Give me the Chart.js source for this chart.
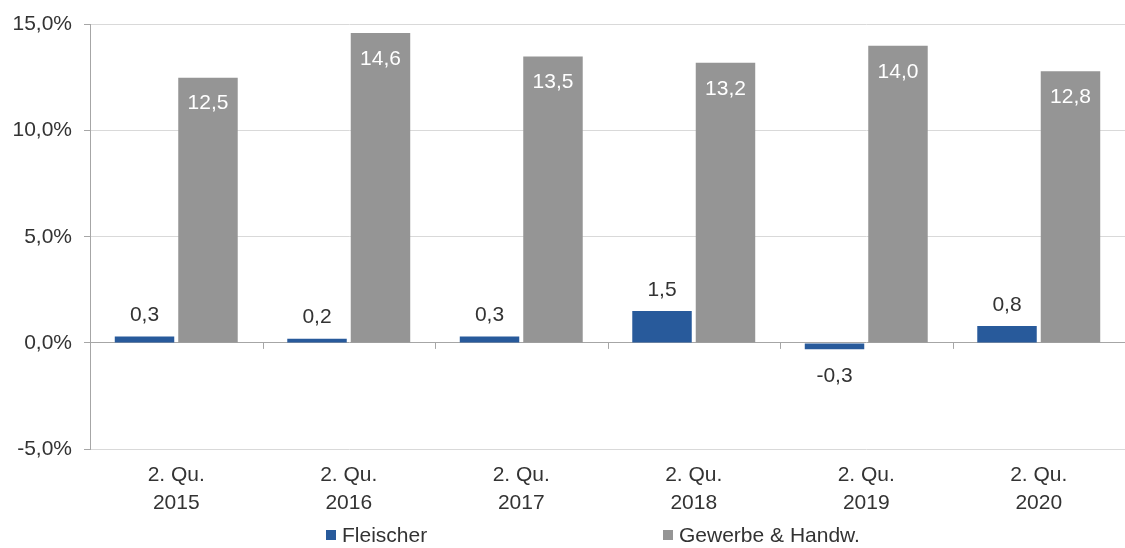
<!DOCTYPE html>
<html>
<head>
<meta charset="utf-8">
<script src="https://cdn.jsdelivr.net/npm/chart.js@4"></script>
<style>
    html, body { margin: 0; padding: 0; background: #ffffff; }
    #wrap { width: 1125px; height: 548px; position: relative; }
</style>
</head>
<body>
<div id="wrap"><canvas id="barChart"></canvas></div>
<script>
// Chart data
const categories = [['2. Qu.', '2015'], ['2. Qu.', '2016'], ['2. Qu.', '2017'], ['2. Qu.', '2018'], ['2. Qu.', '2019'], ['2. Qu.', '2020']];
const fleischerValues = [0.3, 0.2, 0.3, 1.5, -0.3, 0.8];
const gewerbeValues = [12.5, 14.6, 13.5, 13.2, 14.0, 12.8];
const seriesNames = ['Fleischer', 'Gewerbe & Handw.'];
const yTicks = [-5, 0, 5, 10, 15];

const blue = '#285A9B';
const grey = '#959595';
const fontFamily = '"Liberation Sans", Arial, sans-serif';
const fontSize = 21;

function formatNumber(v) {
    return v.toFixed(1).replace('.', ',');
}

// Value labels above/inside the bars
const valueLabels = {
    id: 'valueLabels',
    afterDatasetsDraw(chart) {
        const ctx = chart.ctx;
        ctx.save();
        ctx.font = fontSize + 'px ' + fontFamily;
        ctx.textAlign = 'center';
        ctx.textBaseline = 'middle';
        chart.data.datasets.forEach((ds, di) => {
            const meta = chart.getDatasetMeta(di);
            meta.data.forEach((bar, i) => {
                const v = ds.data[i];
                if (di === 1) {
                    ctx.fillStyle = '#ffffff';
                    ctx.fillText(formatNumber(v), bar.x, bar.y + 26);
                } else {
                    ctx.fillStyle = '#333333';
                    const y = v >= 0 ? bar.y - 21 : bar.y + 27;
                    ctx.fillText(formatNumber(v), bar.x, y);
                }
            });
        });
        ctx.restore();
    }
};

// Zero line tick marks and bottom legend
const axisExtras = {
    id: 'axisExtras',
    afterDraw(chart) {
        const ctx = chart.ctx;
        const xs = chart.scales.x;
        const ys = chart.scales.y;
        const y0 = ys.getPixelForValue(0);
        ctx.save();
        ctx.strokeStyle = '#a6a6a6';
        ctx.lineWidth = 1;
        for (let i = 1; i < categories.length; i++) {
            const x = Math.round(xs.getPixelForValue(i - 0.5)) + 0.5;
            ctx.beginPath();
            ctx.moveTo(x, y0);
            ctx.lineTo(x, y0 + 6);
            ctx.stroke();
        }

        // legend
        const items = [
            { text: seriesNames[0], color: blue, x: 326 },
            { text: seriesNames[1], color: grey, x: 663 }
        ];
        const ly = 535;
        ctx.font = fontSize + 'px ' + fontFamily;
        ctx.textBaseline = 'middle';
        ctx.textAlign = 'left';
        items.forEach(item => {
            ctx.fillStyle = item.color;
            ctx.fillRect(item.x, ly - 5, 10, 10);
            ctx.fillStyle = '#333333';
            ctx.fillText(item.text, item.x + 16, ly + 1);
        });
        ctx.restore();
    }
};

const chart = new Chart(document.getElementById('barChart').getContext('2d'), {
    type: 'bar',
    data: {
        labels: categories,
        datasets: [{
            label: seriesNames[0],
            data: fleischerValues,
            backgroundColor: blue,
            categoryPercentage: 0.736,
            barPercentage: 0.937
        }, {
            label: seriesNames[1],
            data: gewerbeValues,
            backgroundColor: grey,
            categoryPercentage: 0.736,
            barPercentage: 0.937
        }]
    },
    options: {
        responsive: true,
        maintainAspectRatio: false,
        animation: false,
        layout: {
            padding: { top: 21, right: 0, bottom: 0, left: 0 }
        },
        plugins: {
            legend: { display: false },
            tooltip: { enabled: false }
        },
        scales: {
            x: {
                grid: { display: false, drawTicks: false },
                border: { display: false },
                ticks: {
                    color: '#333333',
                    padding: 13,
                    maxRotation: 0,
                    font: { family: fontFamily, size: fontSize, lineHeight: 1.3 }
                },
                afterFit(scale) { scale.height = 99; }
            },
            y: {
                min: -5,
                max: 15,
                afterBuildTicks(scale) {
                    scale.ticks = yTicks.map(v => ({ value: v }));
                },
                grid: {
                    color: ctx => ctx.tick && ctx.tick.value === 0 ? '#a6a6a6' : '#d9d9d9',
                    tickColor: '#a6a6a6',
                    tickLength: 6,
                    lineWidth: 1
                },
                border: { color: '#a6a6a6' },
                ticks: {
                    color: '#333333',
                    padding: 12,
                    font: { family: fontFamily, size: fontSize },
                    callback: v => formatNumber(v) + '%'
                },
                afterFit(scale) { scale.width = 90; }
            }
        }
    },
    plugins: [valueLabels, axisExtras]
});
</script>
</body>
</html>
